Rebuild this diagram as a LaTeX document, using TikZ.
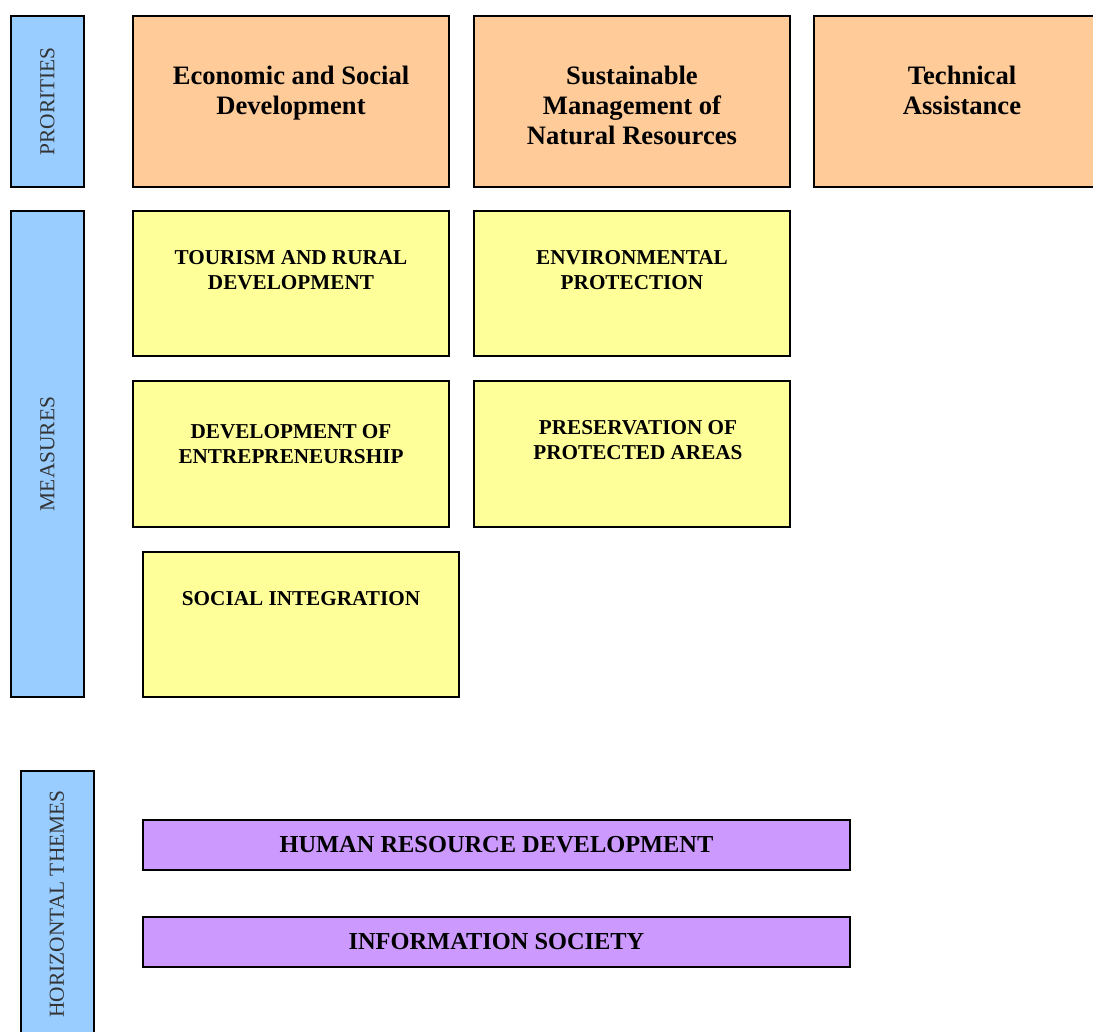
\documentclass[tikz,border=0pt]{standalone}
\usepackage{fontspec}
\setmainfont{Liberation Serif}
\usetikzlibrary{positioning}

\definecolor{prioorange}{HTML}{FFCC99}
\definecolor{measyellow}{HTML}{FFFF99}
\definecolor{sideblue}{HTML}{99CCFF}
\definecolor{themepurple}{HTML}{CC99FF}

\tikzset{
    cellbox/.style={draw=black, line width=1pt, rectangle, inner sep=0pt},
    priobox/.style={cellbox, fill=prioorange, minimum width=158pt, minimum height=85.5pt},
    measbox/.style={cellbox, fill=measyellow, minimum width=158pt, minimum height=72.5pt},
    sidebox/.style={cellbox, fill=sideblue, minimum width=36.5pt},
    themebox/.style={cellbox, fill=themepurple, minimum width=353.5pt, minimum height=25pt,
        font=\bfseries\fontsize{12.2}{14}\selectfont},
    priotext/.style={align=center, inner sep=0pt, font=\bfseries\fontsize{13.3}{15}\selectfont},
    meastext/.style={align=center, inner sep=0pt, font=\bfseries\fontsize{10.6}{12.5}\selectfont},
    sidetext/.style={rotate=90, inner sep=0pt, text=black!80, font=\fontsize{10.7}{12}\selectfont},
}

\begin{document}
\begin{tikzpicture}[x=0.5pt, y=-0.5pt]
    \clip (0,0) rectangle (1093,1032);              % page frame

    % left column
    \node [sidebox, minimum height=85.5pt] (prioside) at (47.5,101.5) {};
    \node [sidetext] (priolabel) at (prioside.center) {PRORITIES};
    \node [sidebox, minimum height=243pt] (measside) at (47.5,454) {};
    \node [sidetext] (measlabel) at (measside.center) {MEASURES};
    \node [sidebox, minimum height=135pt] (themeside) at (57,906) {};
    \node [sidetext] (themelabel) at (57,904) {HORIZONTAL THEMES};

    % priorities
    \node [priobox] (econ) at (291,101.5) {};
    \node [priotext, below=25.5pt of econ.north] (econtext) {Economic and Social\\Development};
    \node [priobox] (sust) at (632,101.5) {};
    \node [priotext, below=25.5pt of sust.north] (susttext) {Sustainable\\Management of\\Natural Resources};
    \node [priobox] (tech) at (972,101.5) {};
    \node [priotext, below=25.5pt of tech.north, xshift=-5pt] (techtext) {Technical\\Assistance};

    % measures
    \node [measbox] (tour) at (291,283.5) {};
    \node [meastext, below=20pt of tour.north] (tourtext) {TOURISM AND RURAL\\DEVELOPMENT};
    \node [measbox] (envi) at (632,283.5) {};
    \node [meastext, below=20pt of envi.north] (envitext) {ENVIRONMENTAL\\PROTECTION};
    \node [measbox] (entr) at (291,454) {};
    \node [meastext, below=22pt of entr.north] (entrtext) {DEVELOPMENT OF\\ENTREPRENEURSHIP};
    \node [measbox] (pres) at (632,454) {};
    \node [meastext, below=20pt of pres.north, xshift=3pt] (prestext) {PRESERVATION OF\\PROTECTED AREAS};
    \node [measbox] (soci) at (301,624) {};
    \node [meastext, below=20.5pt of soci.north] (socitext) {SOCIAL INTEGRATION};

    % horizontal themes
    \node [themebox] (hrd) at (496.5,844.5) {HUMAN RESOURCE DEVELOPMENT};
    \node [themebox] (info) at (496.5,942) {INFORMATION SOCIETY};
\end{tikzpicture}
\end{document}
